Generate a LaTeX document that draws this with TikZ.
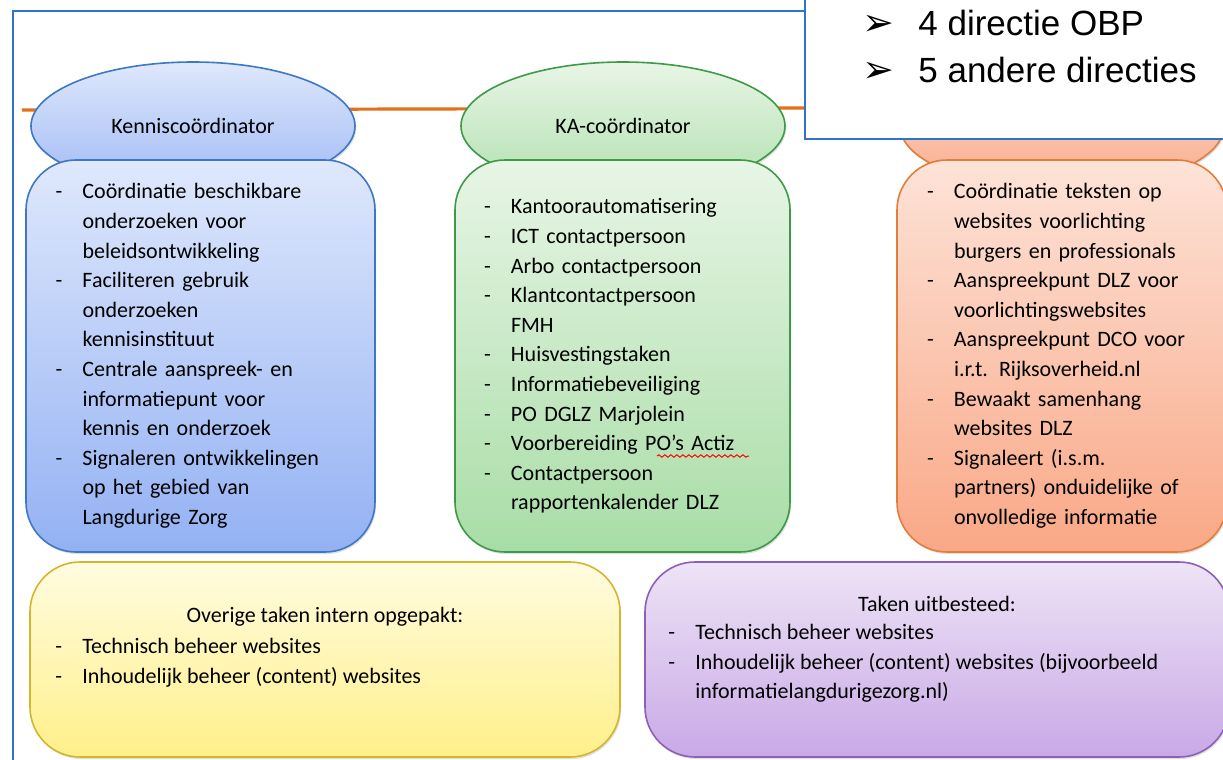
\documentclass[tikz,border=0pt]{standalone}
\usepackage{fontspec}
\setmainfont{Carlito}
\newfontfamily\arialfont{Liberation Sans}
\newfontfamily\symbolfont{DejaVu Sans}
\usetikzlibrary{shapes.geometric,shadows,decorations.pathmorphing}

\definecolor{frameblue}{HTML}{2E74CC}
\definecolor{lineorange}{HTML}{E4711A}
\definecolor{kcline}{HTML}{3C78C6}
\definecolor{kctop}{HTML}{DFE8FC}
\definecolor{kcbot}{HTML}{93B1F3}
\definecolor{kaline}{HTML}{3E9A48}
\definecolor{katop}{HTML}{E8F5E6}
\definecolor{kabot}{HTML}{A8DDA6}
\definecolor{wbline}{HTML}{E27D3A}
\definecolor{wbtop}{HTML}{FDE3D8}
\definecolor{wbbot}{HTML}{F9A886}
\definecolor{ovline}{HTML}{D6B52C}
\definecolor{ovtop}{HTML}{FFFCE0}
\definecolor{ovbot}{HTML}{FFF08A}
\definecolor{ubline}{HTML}{8C60B8}
\definecolor{ubtop}{HTML}{EEE3F6}
\definecolor{ubbot}{HTML}{C8A9E6}

% one task line, and a continued line
\newcommand\taak[1]{\makebox[13.5pt][l]{-}#1}
\newcommand\verder[1]{\hspace*{13.5pt}#1}

\begin{document}
\begin{tikzpicture}[x=0.5pt,y=-0.5pt]
    \tikzset{Head/.style n args={3}{%
        shape=ellipse,%
        draw=#1,%
        line width=0.8pt,%
        top color=#2,%
        bottom color=#3,%
        minimum width=162pt,%
        minimum height=64pt,%
        font=\fontsize{11}{15}\selectfont,%
        drop shadow={shadow xshift=0.6pt,shadow yshift=-1pt,opacity=0.25},%
    }}
    \tikzset{Box/.style n args={3}{%
        draw=#1,%
        line width=0.8pt,%
        top color=#2,%
        bottom color=#3,%
        rounded corners=25pt,%
        inner xsep=14.5pt,%
        align=left,%
        font=\fontsize{11}{14.8}\selectfont,%
        drop shadow={shadow xshift=0.6pt,shadow yshift=-1pt,opacity=0.25},%
    }}
    \tikzset{Txt/.style={%
        align=left,%
        inner sep=0pt,%
        font=\fontsize{11}{14.8}\selectfont,%
    }}

    \useasboundingbox (0,0) rectangle (1223,760);
    \clip (0,0) rectangle (1223,760);
    \fill[white] (0,0) rectangle (1223,760);

    % frame and orange line
    \draw[frameblue, line width=1pt] (13,11) rectangle (1300,820);
    \coordinate (lijnA) at (22,110);
    \coordinate (lijnB) at (812,108);
    \draw[lineorange, line width=1.6pt] (lijnA) -- (lijnB);

    % headers
    \node[Head={kcline}{kctop}{kcbot!85!kctop}] (kcHead) at (193,126) {Kenniscoördinator};
    \node[Head={kaline}{katop}{kabot!85!katop}] (kaHead) at (623,126) {KA-coördinator};
    \node[Head={wbline}{wbtop}{wbbot}] (wbHead) at (1062,126) {};

    % boxes
    \node[Box={kcline}{kctop}{kcbot}, minimum width=174.5pt, minimum height=196pt, text width=145pt] (kcBox) at (200.5,356) {%
        \taak{Coördinatie beschikbare}\\
        \verder{onderzoeken voor}\\
        \verder{beleidsontwikkeling}\\
        \taak{Faciliteren gebruik}\\
        \verder{onderzoeken}\\
        \verder{kennisinstituut}\\
        \taak{Centrale aanspreek- en}\\
        \verder{informatiepunt voor}\\
        \verder{kennis en onderzoek}\\
        \taak{Signaleren ontwikkelingen}\\
        \verder{op het gebied van}\\
        \verder{Langdurige Zorg}};
    \node[Box={kaline}{katop}{kabot}, minimum width=167.5pt, minimum height=196pt, text width=138.5pt] (kaBox) at (622.5,356) {%
        \taak{Kantoorautomatisering}\\
        \taak{ICT contactpersoon}\\
        \taak{Arbo contactpersoon}\\
        \taak{Klantcontactpersoon}\\
        \verder{FMH}\\
        \taak{Huisvestingstaken}\\
        \taak{Informatiebeveiliging}\\
        \taak{PO DGLZ Marjolein}\\
        \taak{Voorbereiding PO’s Actiz}\\
        \taak{Contactpersoon}\\
        \verder{rapportenkalender DLZ}};
    \node[Box={wbline}{wbtop}{wbbot}, minimum width=164pt, minimum height=196pt, text width=135pt, inner xsep=15pt] (wbBox) at (1062,356) {%
        \taak{Coördinatie teksten op}\\
        \verder{websites voorlichting}\\
        \verder{burgers en professionals}\\
        \taak{Aanspreekpunt DLZ voor}\\
        \verder{voorlichtingswebsites}\\
        \taak{Aanspreekpunt DCO voor}\\
        \verder{i.r.t. Rijksoverheid.nl}\\
        \taak{Bewaakt samenhang}\\
        \verder{websites DLZ}\\
        \taak{Signaleert (i.s.m.}\\
        \verder{partners) onduidelijke of}\\
        \verder{onvolledige informatie}};
    \draw[red, line width=0.5pt, decorate, decoration={snake, segment length=3pt, amplitude=0.6pt}] (657,456) -- (749,456);

    % bottom boxes
    \node[Box={ovline}{ovtop}{ovbot}, minimum width=295pt, minimum height=97.5pt] (ovBox) at (325,659.5) {};
    \node[Txt] (ovTitel) at (325,617) {Overige taken intern opgepakt:};
    \node[Txt, anchor=west] (ovLijst) at (55,663) {%
        \taak{Technisch beheer websites}\\
        \taak{Inhoudelijk beheer (content) websites}};

    \node[Box={ubline}{ubtop}{ubbot}, minimum width=292pt, minimum height=97.5pt] (ubBox) at (937,659.5) {};
    \node[Txt] (ubTitel) at (937,604) {Taken uitbesteed:};
    \node[Txt, anchor=north west] (ubLijst) at (668,624) {%
        \taak{Technisch beheer websites}\\
        \taak{Inhoudelijk beheer (content) websites (bijvoorbeeld}\\
        \verder{informatielangdurigezorg.nl)}};

    % overlay box
    \draw[frameblue, line width=1pt, fill=white] (805,-20) rectangle (1260,139);
    \node[anchor=base west, inner sep=0pt, font=\symbolfont\fontsize{19}{19}\selectfont] (pijl1) at (862,35) {➢};
    \node[anchor=base west, inner sep=0pt, font=\arialfont\fontsize{17.5}{17.5}\selectfont] (regel1) at (918,35) {4 directie OBP};
    \node[anchor=base west, inner sep=0pt, font=\symbolfont\fontsize{19}{19}\selectfont] (pijl2) at (862,83) {➢};
    \node[anchor=base west, inner sep=0pt, font=\arialfont\fontsize{17.5}{17.5}\selectfont] (regel2) at (918,83) {5 andere directies};
\end{tikzpicture}
\end{document}
